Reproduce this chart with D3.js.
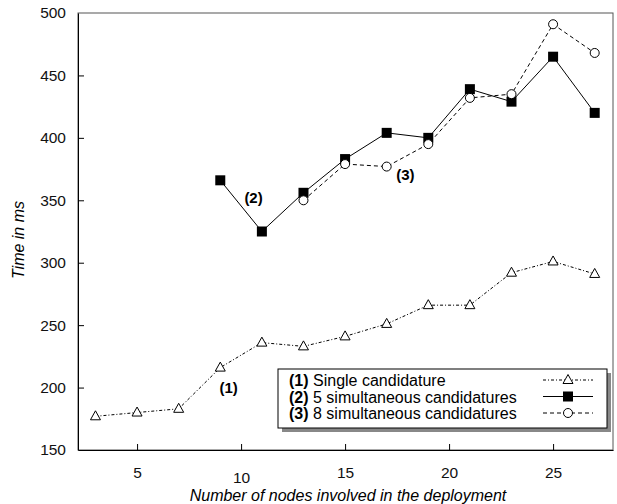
<!DOCTYPE html>
<html>
<head>
<meta charset="utf-8">
<script src="https://cdn.jsdelivr.net/npm/d3@7"></script>
<style>
  body { margin: 0; background: #fff; }
  svg { font-family: "Liberation Sans", Arial, sans-serif; }
</style>
</head>
<body>
<svg id="chart" width="617" height="504"></svg>
<script>
// values
let nodes1 = [3, 5, 7, 9, 11, 13, 15, 17, 19, 21, 23, 25, 27]
let single = [177, 180, 183, 216, 236, 233, 241, 251, 266, 266, 292, 301, 291]
let nodes2 = [9, 11, 13, 15, 17, 19, 21, 23, 25, 27]
let five = [366, 325, 356, 383, 404, 400, 439, 429, 465, 420]
let nodes3 = [13, 15, 17, 19, 21, 23, 25, 27]
let eight = [350, 379, 377, 395, 432, 435, 491, 468]
let xTicks = [5, 10, 15, 20, 25]
let yTicks = [150, 200, 250, 300, 350, 400, 450, 500]
let legendLabels = ['Single candidature', '5 simultaneous candidatures', '8 simultaneous candidatures']

let svg = d3.select('svg')

let x = d3.scaleLinear()
    .domain([2.16, 27.88])
    .range([78, 613])

let y = d3.scaleLinear()
    .domain([150, 500])
    .range([450, 13])

// frame
svg.append('rect')
    .attr('x', x.range()[0]).attr('y', y.range()[1])
    .attr('width', x.range()[1] - x.range()[0])
    .attr('height', y.range()[0] - y.range()[1])
    .attr('fill', 'none').attr('stroke', '#555').attr('stroke-width', 1)

let xAxis = svg.append('g')
    .attr('transform', `translate(0,${y(150)})`)
    .call(d3.axisBottom(x).tickValues(xTicks).tickSizeInner(-6).tickSizeOuter(0).tickPadding(17))
xAxis.select('.domain').attr('stroke', '#000')
xAxis.selectAll('text').attr('font-size', 15.5).attr('fill', '#111')
    .attr('dy', d => d == 10 ? '1.05em' : '0.71em')

let yAxis = svg.append('g')
    .attr('transform', `translate(${x.range()[0]},0)`)
    .call(d3.axisLeft(y).tickValues(yTicks).tickSizeInner(-6).tickSizeOuter(0).tickPadding(12))
yAxis.select('.domain').attr('stroke', '#000')
yAxis.selectAll('text').attr('font-size', 15.5).attr('fill', '#111')
yAxis.selectAll('.tick').filter(d => d == 150 || d == 500).select('line').remove()

svg.append('text')
    .attr('x', 348).attr('y', 495)
    .attr('text-anchor', 'middle').attr('dominant-baseline', 'central')
    .attr('font-size', 16).attr('font-style', 'italic')
    .text('Number of nodes involved in the deployment')

svg.append('text')
    .attr('transform', `translate(18,240) rotate(-90)`)
    .attr('text-anchor', 'middle').attr('dominant-baseline', 'central')
    .attr('font-size', 16).attr('font-style', 'italic')
    .text('Time in ms')

let line = d3.line().x(d => x(d[0])).y(d => y(d[1]))

let series = [
    {xs: nodes1, ys: single, dash: '3,2,1,2', marker: 'triangle'},
    {xs: nodes2, ys: five, dash: null, marker: 'square'},
    {xs: nodes3, ys: eight, dash: '4,3', marker: 'circle'}
]

drawMarker = (g, kind, cx, cy) => {
    if (kind == 'triangle') {
        g.append('path')
            .attr('d', `M${cx},${cy - 5.5}L${cx + 5},${cy + 3.5}L${cx - 5},${cy + 3.5}Z`)
            .attr('fill', '#fff').attr('stroke', '#000').attr('stroke-width', 1)
    } else if (kind == 'square') {
        g.append('rect')
            .attr('x', cx - 5).attr('y', cy - 5).attr('width', 10).attr('height', 10)
            .attr('fill', '#000')
    } else {
        g.append('circle')
            .attr('cx', cx).attr('cy', cy).attr('r', 4.5)
            .attr('fill', '#fff').attr('stroke', '#000').attr('stroke-width', 1)
    }
}

series.forEach(s => {
    let pts = s.xs.map((v, i) => [v, s.ys[i]])
    svg.append('path')
        .attr('d', line(pts))
        .attr('fill', 'none').attr('stroke', '#000').attr('stroke-width', 1)
        .attr('stroke-dasharray', s.dash)
    let g = svg.append('g')
    pts.forEach(p => drawMarker(g, s.marker, x(p[0]), y(p[1])))
})

// inline labels
let tags = [
    {t: '(1)', px: 9.4, py: 200},
    {t: '(2)', px: 10.6, py: 352},
    {t: '(3)', px: 17.9, py: 371}
]
svg.selectAll('.tag')
    .data(tags)
    .enter().append('text')
    .attr('class', 'tag')
    .attr('x', d => x(d.px)).attr('y', d => y(d.py))
    .attr('text-anchor', 'middle').attr('dominant-baseline', 'central')
    .attr('font-size', 15).attr('font-weight', 'bold')
    .text(d => d.t)

// legend
let lg = svg.append('g')
lg.append('rect')
    .attr('x', 282).attr('y', 373).attr('width', 329).attr('height', 59)
    .attr('fill', '#888')
lg.append('rect')
    .attr('x', 278).attr('y', 369).attr('width', 329).attr('height', 59)
    .attr('fill', '#fff').attr('stroke', '#000').attr('stroke-width', 1)

legendLabels.forEach((lab, i) => {
    let ty = 380 + i * 16.5
    let t = lg.append('text')
        .attr('x', 289).attr('y', ty)
        .attr('dominant-baseline', 'central').attr('font-size', 16)
    t.append('tspan').attr('font-weight', 'bold').text(`(${i + 1})`)
    t.append('tspan').text(' ' + lab)
    lg.append('line')
        .attr('x1', 543).attr('x2', 593).attr('y1', ty).attr('y2', ty)
        .attr('stroke', '#000').attr('stroke-width', 1)
        .attr('stroke-dasharray', series[i].dash)
    drawMarker(lg, series[i].marker, 568, ty)
})
</script>
</body>
</html>
